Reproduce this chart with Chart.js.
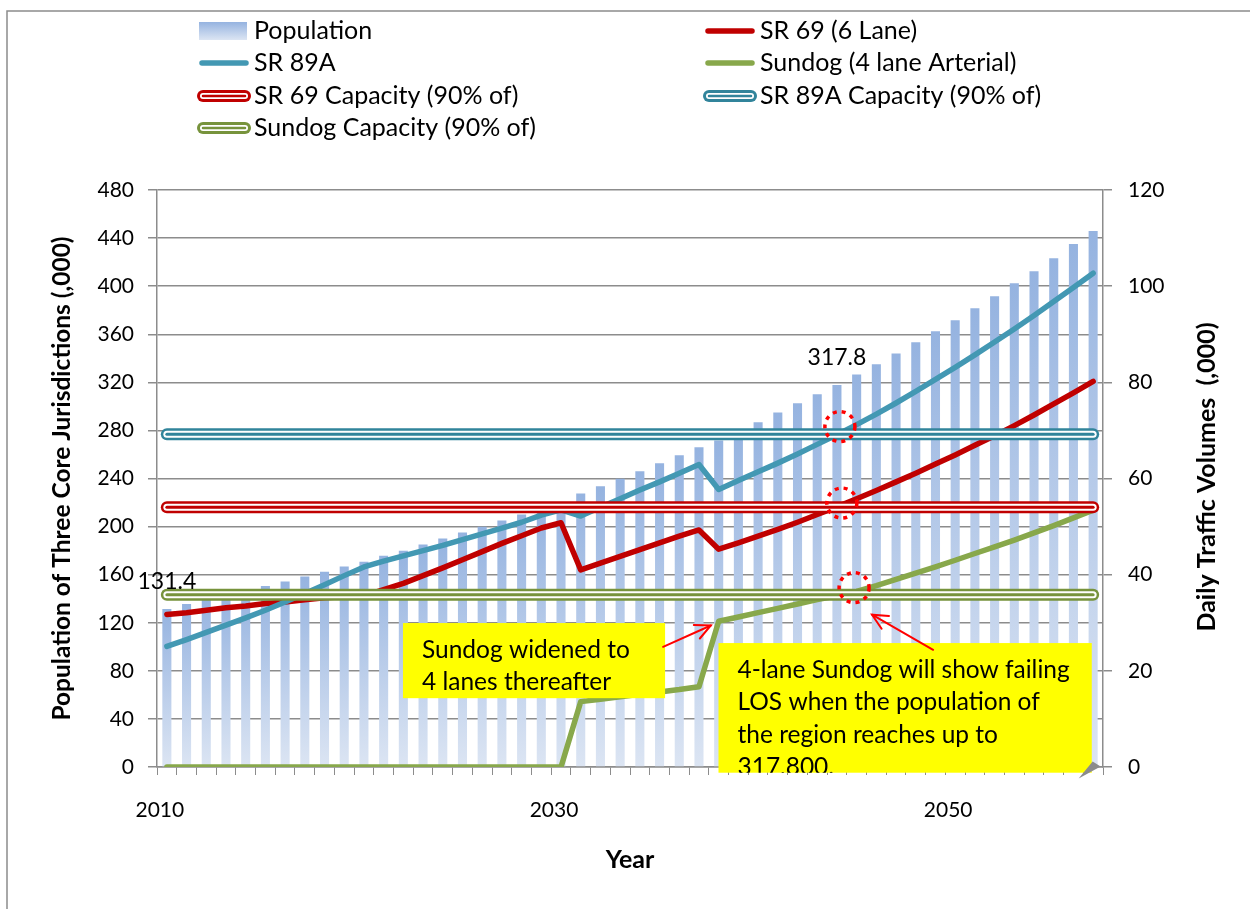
<!DOCTYPE html>
<html>
<head>
<meta charset="utf-8">
<script src="https://cdn.jsdelivr.net/npm/chart.js@4.4.1/dist/chart.umd.min.js"></script>
<style>
html,body{margin:0;padding:0;background:#ffffff;}
#wrap{position:relative;width:1250px;height:909px;overflow:hidden;}
canvas{display:block;}
</style>
</head>
<body>
<div id="wrap"><canvas id="c" width="1250" height="909"></canvas></div>
<script>
// ---------------- data ----------------
const years = ['2010','2011','2012','2013','2014','2015','2016','2017','2018','2019',
  '2020','2021','2022','2023','2024','2025','2026','2027','2028','2029',
  '2030','2031','2032','2033','2034','2035','2036','2037','2038','2039',
  '2040','2041','2042','2043','2044','2045','2046','2047','2048','2049',
  '2050','2051','2052','2053','2054','2055','2056','2057'];
const xTickLabels = ['2010','2030','2050'];

const population = [131.4,135.5,139.3,143.1,146.8,150.6,154.4,158.5,162.5,166.7,
  170.8,175.8,180.0,185.0,190.0,195.0,199.8,205.0,210.0,215.0,
  220.0,227.5,233.5,239.7,246.0,252.7,259.4,266.0,271.7,279.4,
  286.7,295.0,302.5,310.0,317.8,326.5,335.0,344.0,353.3,362.5,
  371.7,381.7,391.7,402.5,412.5,423.3,435.0,445.8];

const sr69 = [31.7,32.1,32.6,33.1,33.5,34.0,34.3,34.8,35.2,35.4,
  35.6,36.9,38.2,39.8,41.4,43.1,44.8,46.5,48.1,49.7,
  50.8,41.0,42.4,43.8,45.2,46.6,48.0,49.3,45.3,46.6,
  48.0,49.4,50.9,52.5,54.1,55.8,57.5,59.3,61.1,63.0,
  64.9,66.9,68.9,71.0,73.2,75.5,77.8,80.2];

const sr89a = [25.1,26.5,28.0,29.5,31.0,32.6,34.3,36.1,37.9,39.8,
  41.6,42.8,43.9,45.0,46.1,47.3,48.5,49.7,50.9,52.4,
  53.5,52.2,54.0,55.8,57.6,59.3,61.1,62.9,57.7,59.6,
  61.4,63.2,65.1,67.1,69.1,71.2,73.4,75.7,78.1,80.6,
  83.1,85.7,88.4,91.1,93.9,96.8,99.7,102.7];

const sundog = [0,0,0,0,0,0,0,0,0,0,
  0,0,0,0,0,0,0,0,0,0,
  0,13.6,14.1,14.6,15.1,15.6,16.1,16.7,30.3,31.2,
  32.1,33.0,33.9,34.8,35.6,36.5,37.7,39.0,40.3,41.6,
  43.0,44.4,45.8,47.2,48.7,50.2,51.8,53.4];

const sr69Capacity = 54.0;
const sr89aCapacity = 69.2;
const sundogCapacity = 35.8;

const leftTicks = [0,40,80,120,160,200,240,280,320,360,400,440,480];
const leftMinorTicks = [20,60,100,140,180,220,260,300,340,380,420,460];
const rightTicks = [0,20,40,60,80,100,120];

const labelledYears = ['2010','2044'];

// ---------------- styles ----------------
const FONT = 'Lato, "Open Sans", "Noto Sans", sans-serif';
const C_RED = '#C00000';
const C_TEAL = '#4398B3';
const C_TEAL_CAP = '#31849B';
const C_GREEN = '#88A84B';
const C_GREEN_CAP = '#77933C';
const GRID_MAJOR = '#8C8C8C';
const GRID_MINOR = '#C6C6C6';

Chart.defaults.font.family = FONT;
Chart.defaults.color = '#000';

function barGradient(ctx) {
  const chart = ctx.chart;
  const area = chart.chartArea;
  if (!area || ctx.type !== 'data') return '#9DB8E2';
  const ys = chart.scales.y;
  const top = ys.getPixelForValue(ctx.raw);
  const bot = ys.getPixelForValue(0);
  const g = chart.ctx.createLinearGradient(0, top, 0, bot);
  g.addColorStop(0, '#95B3E0');
  g.addColorStop(1, '#DCE5F3');
  return g;
}

const capStyle = (color, order) => ({
  type: 'line', yAxisID: 'y2', borderColor: color, borderWidth: 12,
  borderCapStyle: 'round', pointRadius: 0, tension: 0, order: order,
  doubleLine: true, fill: false
});

const data = {
  labels: years,
  datasets: [
    { type: 'bar', label: 'Population', data: population, yAxisID: 'y',
      backgroundColor: barGradient, borderWidth: 0,
      barPercentage: 0.46, categoryPercentage: 1.0, order: 20 },
    { type: 'line', label: 'SR 69 (6 Lane)', data: sr69, yAxisID: 'y2',
      borderColor: C_RED, borderWidth: 5.5, pointRadius: 0, tension: 0,
      borderCapStyle: 'round', borderJoinStyle: 'round', order: 8 },
    { type: 'line', label: 'SR 89A', data: sr89a, yAxisID: 'y2',
      borderColor: C_TEAL, borderWidth: 5.5, pointRadius: 0, tension: 0,
      borderCapStyle: 'round', borderJoinStyle: 'round', order: 7 },
    { type: 'line', label: 'Sundog (4 lane Arterial)', data: sundog, yAxisID: 'y2',
      borderColor: C_GREEN, borderWidth: 5.5, pointRadius: 0, tension: 0,
      borderCapStyle: 'round', borderJoinStyle: 'round', order: 6 },
    Object.assign({ label: 'SR 69 Capacity (90% of)', data: years.map(() => sr69Capacity) }, capStyle(C_RED, 3)),
    Object.assign({ label: 'SR 89A Capacity (90% of)', data: years.map(() => sr89aCapacity) }, capStyle(C_TEAL_CAP, 2)),
    Object.assign({ label: 'Sundog Capacity (90% of)', data: years.map(() => sundogCapacity) }, capStyle(C_GREEN_CAP, 1))
  ]
};

// ---------------- plugins ----------------
function strokeDouble(c, pts, color, inner, core) {
  const path = () => {
    c.beginPath();
    pts.forEach((p, i) => { if (i === 0) c.moveTo(p.x, p.y); else c.lineTo(p.x, p.y); });
  };
  c.save();
  c.lineCap = 'round'; c.lineJoin = 'round';
  path(); c.strokeStyle = '#FFFFFF'; c.lineWidth = inner; c.stroke();
  path(); c.strokeStyle = color; c.lineWidth = core; c.stroke();
  c.restore();
}

const doubleLinePlugin = {
  id: 'doubleLine',
  afterDatasetDraw(chart, args) {
    const ds = chart.data.datasets[args.index];
    if (!ds.doubleLine) return;
    const pts = args.meta.data.map(e => ({ x: e.x, y: e.y }));
    strokeDouble(chart.ctx, pts, ds.borderColor, 7, 3);
  }
};

const legendPlugin = {
  id: 'twoColLegend',
  afterDraw(chart) {
    const c = chart.ctx;
    const cols = [199, 705];
    const rows = [31, 63, 96, 128];
    c.save();
    c.font = '25px ' + FONT;
    c.textBaseline = 'middle';
    c.textAlign = 'left';
    chart.data.datasets.forEach((ds, k) => {
      const x0 = cols[k % 2];
      const y = rows[Math.floor(k / 2)];
      if (ds.type === 'bar') {
        const g = c.createLinearGradient(0, y - 9, 0, y + 9);
        g.addColorStop(0, '#95B3E0'); g.addColorStop(1, '#DCE5F3');
        c.fillStyle = g;
        c.fillRect(x0, y - 9, 48, 18);
      } else if (ds.doubleLine) {
        c.lineCap = 'round';
        c.beginPath(); c.moveTo(x0 + 4, y); c.lineTo(x0 + 46, y);
        c.strokeStyle = ds.borderColor; c.lineWidth = 12; c.stroke();
        strokeDouble(c, [{x: x0 + 4, y: y}, {x: x0 + 46, y: y}], ds.borderColor, 6, 2.5);
      } else {
        c.lineCap = 'round';
        c.beginPath(); c.moveTo(x0 + 3, y); c.lineTo(x0 + 47, y);
        c.strokeStyle = ds.borderColor; c.lineWidth = 5.5; c.stroke();
      }
      c.fillStyle = '#000';
      c.fillText(ds.label, x0 + 55, y);
    });
    c.restore();
  }
};

const frameAndTitlePlugin = {
  id: 'frameTitle',
  beforeDraw(chart) {
    const c = chart.ctx;
    c.save();
    c.fillStyle = '#fff';
    c.fillRect(0, 0, chart.width, chart.height);
    c.strokeStyle = '#8C8C8C';
    c.lineWidth = 1.5;
    c.strokeRect(7, 11, 1400, 1400);
    c.restore();
  },
  afterDraw(chart) {
    const c = chart.ctx;
    const a = chart.chartArea;
    c.save();
    c.translate(1207, 477);
    c.rotate(-Math.PI / 2);
    c.font = 'bold 25px ' + FONT;
    c.fillStyle = '#000';
    c.textAlign = 'center';
    c.textBaseline = 'middle';
    c.fillText('Daily Traffic Volumes  (,000)', 0, 0);
    c.restore();
  }
};

function drawArrow(c, x1, y1, x2, y2, color, head) {
  const ang = Math.atan2(y2 - y1, x2 - x1);
  c.save();
  c.strokeStyle = color; c.lineWidth = 2; c.lineCap = 'round';
  c.beginPath(); c.moveTo(x1, y1); c.lineTo(x2, y2); c.stroke();
  c.beginPath();
  c.moveTo(x2 - head * Math.cos(ang - 0.45), y2 - head * Math.sin(ang - 0.45));
  c.lineTo(x2, y2);
  c.lineTo(x2 - head * Math.cos(ang + 0.45), y2 - head * Math.sin(ang + 0.45));
  c.stroke();
  c.restore();
}

const annotationPlugin = {
  id: 'notes',
  afterDatasetsDraw(chart) {
    const c = chart.ctx;
    const xs = chart.scales.x, ys = chart.scales.y, y2 = chart.scales.y2;
    const X = i => xs.getPixelForValue(i);

    // value labels above selected bars
    const barMeta = chart.getDatasetMeta(0);
    c.save();
    c.font = '23px ' + FONT;
    c.fillStyle = '#000';
    c.textAlign = 'center';
    c.textBaseline = 'middle';
    labelledYears.forEach(yr => {
      const i = years.indexOf(yr);
      const el = barMeta.data[i];
      c.fillText(population[i].toFixed(1), el.x, el.y - 27);
    });
    c.restore();

    // dotted circles at the capacity crossings
    c.save();
    c.strokeStyle = '#FF0000';
    c.lineWidth = 3.5;
    c.setLineDash([4, 5]);
    [[34.15, 70.8], [34.25, 54.9], [34.87, 37.3]].forEach(([i, v]) => {
      c.beginPath();
      c.arc(X(i), y2.getPixelForValue(v), 15, 0, Math.PI * 2);
      c.stroke();
    });
    c.restore();

    // yellow note boxes
    const boxes = [
      { i0: 11.98, i1: 25.28, v0: 119.75, v1: 57.25,
        lines: ['Sundog widened to', '4 lanes thereafter'] },
      { i0: 27.99, i1: 46.93, v0: 103.1, v1: -4.75,
        lines: ['4-lane Sundog will show failing', 'LOS when the population of',
                'the region reaches up to', '317,800.'] }
    ];
    boxes.forEach(b => {
      const l = X(b.i0), r = X(b.i1), t = ys.getPixelForValue(b.v0), bt = ys.getPixelForValue(b.v1);
      c.save();
      c.fillStyle = '#FFFF00';
      c.fillRect(l, t, r - l, bt - t);
      c.beginPath(); c.rect(l, t, r - l, bt - t); c.clip();
      c.font = '24.5px ' + FONT;
      c.fillStyle = '#000';
      c.textAlign = 'left';
      c.textBaseline = 'middle';
      b.lines.forEach((s, k) => c.fillText(s, l + 19, t + 27 + k * 32.5));
      c.restore();
    });

    // arrows
    drawArrow(c, X(25.18), ys.getPixelForValue(100), X(27.6), ys.getPixelForValue(117.7), '#FF0000', 17);
    drawArrow(c, X(38.88), ys.getPixelForValue(97.5), X(35.78), ys.getPixelForValue(126.7), '#FF0000', 17);

    // small grey arrow head at the axis end
    c.save();
    c.fillStyle = '#8C8C8C';
    const tx = X(47.38), ty = ys.getPixelForValue(0.5);
    c.beginPath();
    c.moveTo(tx, ty);
    c.lineTo(tx - 22, ty + 12);
    c.lineTo(tx - 8, ty - 5);
    c.closePath();
    c.fill();
    c.restore();
  }
};

// ---------------- chart ----------------
new Chart(document.getElementById('c'), {
  data: data,
  options: {
    responsive: false,
    animation: false,
    devicePixelRatio: 1,
    layout: { padding: { top: 190, left: 0, right: 0, bottom: 0 } },
    plugins: { legend: { display: false }, tooltip: { enabled: false } },
    scales: {
      x: {
        type: 'category',
        offset: true,
        afterFit: s => { s.height = 142; },
        grid: { display: true, drawOnChartArea: false, drawTicks: true, tickLength: 8,
                offset: true, color: GRID_MAJOR, lineWidth: 1 },
        border: { display: true, color: GRID_MAJOR, width: 1.5 },
        ticks: {
          autoSkip: false, maxRotation: 0, minRotation: 0, padding: 23,
          labelOffset: -7,
          font: { size: 21, family: FONT }, color: '#000',
          callback: (v, i) => xTickLabels.includes(years[i]) ? years[i] : ''
        },
        title: { display: true, text: 'Year', font: { size: 25, weight: 'bold', family: FONT },
                 color: '#000', padding: { top: 34, bottom: 34 } }
      },
      y: {
        type: 'linear', position: 'left', min: 0, max: 480,
        afterFit: s => { s.width = 157; },
        afterBuildTicks: s => { s.ticks = leftTicks.concat(leftMinorTicks).sort((a,b)=>a-b).map(v => ({ value: v })); },
        grid: {
          drawOnChartArea: true, drawTicks: true, tickLength: 9,
          color: ctx => (ctx.tick && ctx.tick.value % 40 === 0) ? GRID_MAJOR : GRID_MINOR,
          tickColor: ctx => (ctx.tick && ctx.tick.value % 40 === 0) ? GRID_MAJOR : 'rgba(0,0,0,0)',
          lineWidth: 1.5
        },
        border: { display: true, color: GRID_MAJOR, width: 1.5 },
        ticks: {
          padding: 14, font: { size: 21, family: FONT }, color: '#000',
          callback: v => leftTicks.includes(v) ? String(v) : ''
        },
        title: { display: true, text: 'Population of Three Core Jurisdictions (,000)',
                 font: { size: 24.5, weight: 'bold', family: FONT }, color: '#000',
                 padding: { top: 47, bottom: 47 } }
      },
      y2: {
        type: 'linear', position: 'right', min: 0, max: 120,
        afterFit: s => { s.width = 147; },
        afterBuildTicks: s => { s.ticks = rightTicks.map(v => ({ value: v })); },
        grid: { drawOnChartArea: false, drawTicks: true, tickLength: 9, color: GRID_MAJOR, lineWidth: 1.5 },
        border: { display: true, color: GRID_MAJOR, width: 1.5 },
        ticks: { padding: 16, font: { size: 21, family: FONT }, color: '#000' }
      }
    }
  },
  plugins: [frameAndTitlePlugin, doubleLinePlugin, annotationPlugin, legendPlugin]
});
</script>
</body>
</html>
